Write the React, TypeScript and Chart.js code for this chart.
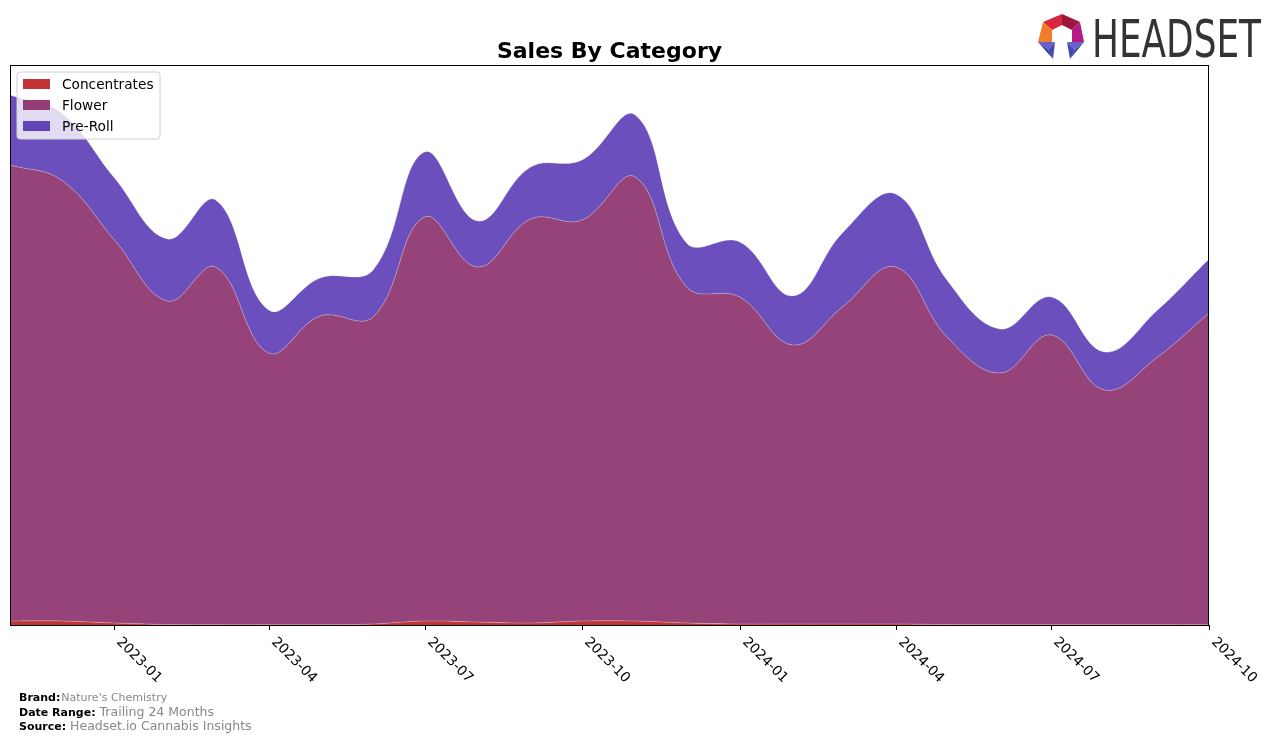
import React, { useEffect, useRef } from "react";
import { Chart, registerables } from "chart.js";
Chart.register(...registerables);

const months = [
  "2022-11", "2022-12", "2023-01", "2023-02", "2023-03", "2023-04",
  "2023-05", "2023-06", "2023-07", "2023-08", "2023-09", "2023-10",
  "2023-11", "2023-12", "2024-01", "2024-02", "2024-03", "2024-04",
  "2024-05", "2024-06", "2024-07", "2024-08", "2024-09", "2024-10",
];
const concentrates = [4, 4, 2, 0.5, 0.3, 0.3, 0.3, 1, 4, 3, 2, 4, 4, 2, 1, 1, 1, 1, 0.5, 0.3, 0.3, 0.3, 0.3, 0.3];
const flower = [456, 441, 383, 323.5, 357.7, 271.7, 308.7, 307, 404, 355, 404, 401, 444, 336, 327, 279, 317, 357, 287.5, 251.7, 289.7, 234.7, 267.7, 311.7];
const preRoll = [70, 67, 62, 62, 67, 43, 38, 47, 65, 46, 52, 60, 62, 44, 55, 49, 74, 73, 57, 44, 38, 38, 47, 54];
const tickLabels = ["2023-01", "2023-04", "2023-07", "2023-10", "2024-01", "2024-04", "2024-07", "2024-10"];
const seriesNames = ["Concentrates", "Flower", "Pre-Roll"];
const seriesColors = ["#c0343a", "#954378", "#6a4fbd"];
const legendColors = ["#c23436", "#933c75", "#6244b9"];

const dayNum = (ym: string) => {
  const [y, m] = ym.split("-").map(Number);
  return Date.UTC(y, m - 1, 1) / 86400000;
};

const FONT = '"DejaVu Sans", sans-serif';

const decorPlugin = {
  id: "decor",
  afterDraw(chart: any) {
    const ctx = chart.ctx as CanvasRenderingContext2D;
    const a = chart.chartArea;
    const xs = chart.scales.x;
    ctx.save();
    // frame
    ctx.strokeStyle = "#000";
    ctx.lineWidth = 1;
    ctx.strokeRect(a.left + 0.5, a.top + 0.5, a.right - a.left - 1, a.bottom - a.top);
    // ticks + labels
    ctx.fillStyle = "#000";
    ctx.font = `13.8px ${FONT}`;
    ctx.textAlign = "left";
    ctx.textBaseline = "top";
    tickLabels.forEach((t) => {
      const px = Math.round(xs.getPixelForValue(dayNum(t))) + 0.5;
      ctx.beginPath();
      ctx.moveTo(px, a.bottom);
      ctx.lineTo(px, a.bottom + 5);
      ctx.stroke();
      ctx.save();
      ctx.translate(px + 9, a.bottom + 10);
      ctx.rotate(Math.PI / 4);
      ctx.fillText(t, 0, 0);
      ctx.restore();
    });
    // title
    ctx.font = `bold 22px ${FONT}`;
    ctx.textAlign = "center";
    ctx.textBaseline = "alphabetic";
    ctx.fillText("Sales By Category", (a.left + a.right) / 2, 58);
    // legend
    const lx = 17, ly = 72, lw = 143, lh = 67, r = 3;
    ctx.beginPath();
    ctx.moveTo(lx + r, ly);
    ctx.arcTo(lx + lw, ly, lx + lw, ly + lh, r);
    ctx.arcTo(lx + lw, ly + lh, lx, ly + lh, r);
    ctx.arcTo(lx, ly + lh, lx, ly, r);
    ctx.arcTo(lx, ly, lx + lw, ly, r);
    ctx.closePath();
    ctx.fillStyle = "rgba(255,255,255,0.8)";
    ctx.fill();
    ctx.strokeStyle = "#d0d0d0";
    ctx.stroke();
    ctx.font = `13.7px ${FONT}`;
    ctx.textAlign = "left";
    ctx.textBaseline = "middle";
    seriesNames.forEach((n, i) => {
      const cy = 84 + i * 21;
      ctx.fillStyle = legendColors[i];
      ctx.fillRect(23, cy - 5, 27, 10);
      ctx.fillStyle = "#000";
      ctx.fillText(n, 62, cy + 1);
    });
    // footer
    const footer = [
      ["Brand:", "Nature's Chemistry", 11, 701],
      ["Date Range:", "Trailing 24 Months", 12.5, 716],
      ["Source:", "Headset.io Cannabis Insights", 12.5, 730],
    ] as const;
    ctx.textBaseline = "alphabetic";
    footer.forEach(([k, v, sz, y]) => {
      ctx.font = `bold 11px ${FONT}`;
      ctx.fillStyle = "#000";
      ctx.fillText(k, 19, y);
      const w = ctx.measureText(k).width;
      ctx.font = `${sz}px ${FONT}`;
      ctx.fillStyle = "#888";
      ctx.fillText(v, 19 + w + (sz === 11 ? 1 : 4), y);
    });
    // logo icon
    const poly = (pts: number[][], c: string) => {
      ctx.beginPath();
      ctx.moveTo(pts[0][0], pts[0][1]);
      for (let i = 1; i < pts.length; i++) ctx.lineTo(pts[i][0], pts[i][1]);
      ctx.closePath();
      ctx.fillStyle = c;
      ctx.fill();
    };
    poly([[1043, 22], [1062, 14], [1062, 25], [1052, 30]], "#d7263d");
    poly([[1062, 14], [1080, 22], [1072, 30], [1062, 25]], "#a0153e");
    poly([[1043, 22], [1052, 30], [1052, 42], [1038, 42]], "#f07d2a");
    poly([[1080, 22], [1084, 42], [1072, 42], [1072, 30]], "#b41a88");
    poly([[1038, 42], [1055, 42], [1048, 50]], "#6a5fd0");
    poly([[1038, 42], [1048, 50], [1053, 59]], "#2e3190");
    poly([[1055, 42], [1048, 50], [1053, 59]], "#4548b0");
    poly([[1084, 42], [1067, 42], [1075, 50]], "#6a5fd0");
    poly([[1084, 42], [1075, 50], [1070, 59]], "#2e3190");
    poly([[1067, 42], [1075, 50], [1070, 59]], "#4548b0");
    // logo text
    ctx.font = `51px ${FONT}`;
    const tw = ctx.measureText("HEADSET").width;
    ctx.save();
    ctx.translate(1092, 57);
    ctx.scale(169 / tw, 1);
    ctx.fillStyle = "#333";
    ctx.textAlign = "left";
    ctx.textBaseline = "alphabetic";
    ctx.fillText("HEADSET", 0, 0);
    ctx.restore();
    ctx.restore();
  },
};

export default function App() {
  const ref = useRef<HTMLCanvasElement | null>(null);
  useEffect(() => {
    if (!ref.current) return;
    const series = [concentrates, flower, preRoll];
    const chart = new Chart(ref.current, {
      type: "line",
      data: {
        datasets: series.map((vals, i) => ({
          label: seriesNames[i],
          data: months.map((m, j) => ({ x: dayNum(m), y: vals[j] })),
          fill: i === 0 ? "origin" : "-1",
          backgroundColor: seriesColors[i],
          borderColor: "rgba(255,255,255,0.35)",
          borderWidth: 0.8,
          pointRadius: 0,
          tension: 0.4,
        })),
      },
      options: {
        responsive: false,
        animation: false,
        layout: { padding: { left: 10, top: 65, right: 67, bottom: 117 } },
        scales: {
          x: { type: "linear", display: false, min: dayNum(months[0]), max: dayNum(months[months.length - 1]) },
          y: { display: false, stacked: true, min: 0, max: 560 },
        },
        plugins: { legend: { display: false }, title: { display: false }, tooltip: { enabled: false } },
      },
      plugins: [decorPlugin],
    } as any);
    return () => chart.destroy();
  }, []);
  return (
    <div style={{ position: "fixed", left: 0, top: 0, width: 1276, height: 742, background: "#fff" }}>
      <canvas ref={ref} width={1276} height={742} style={{ width: 1276, height: 742 }} />
    </div>
  );
}
